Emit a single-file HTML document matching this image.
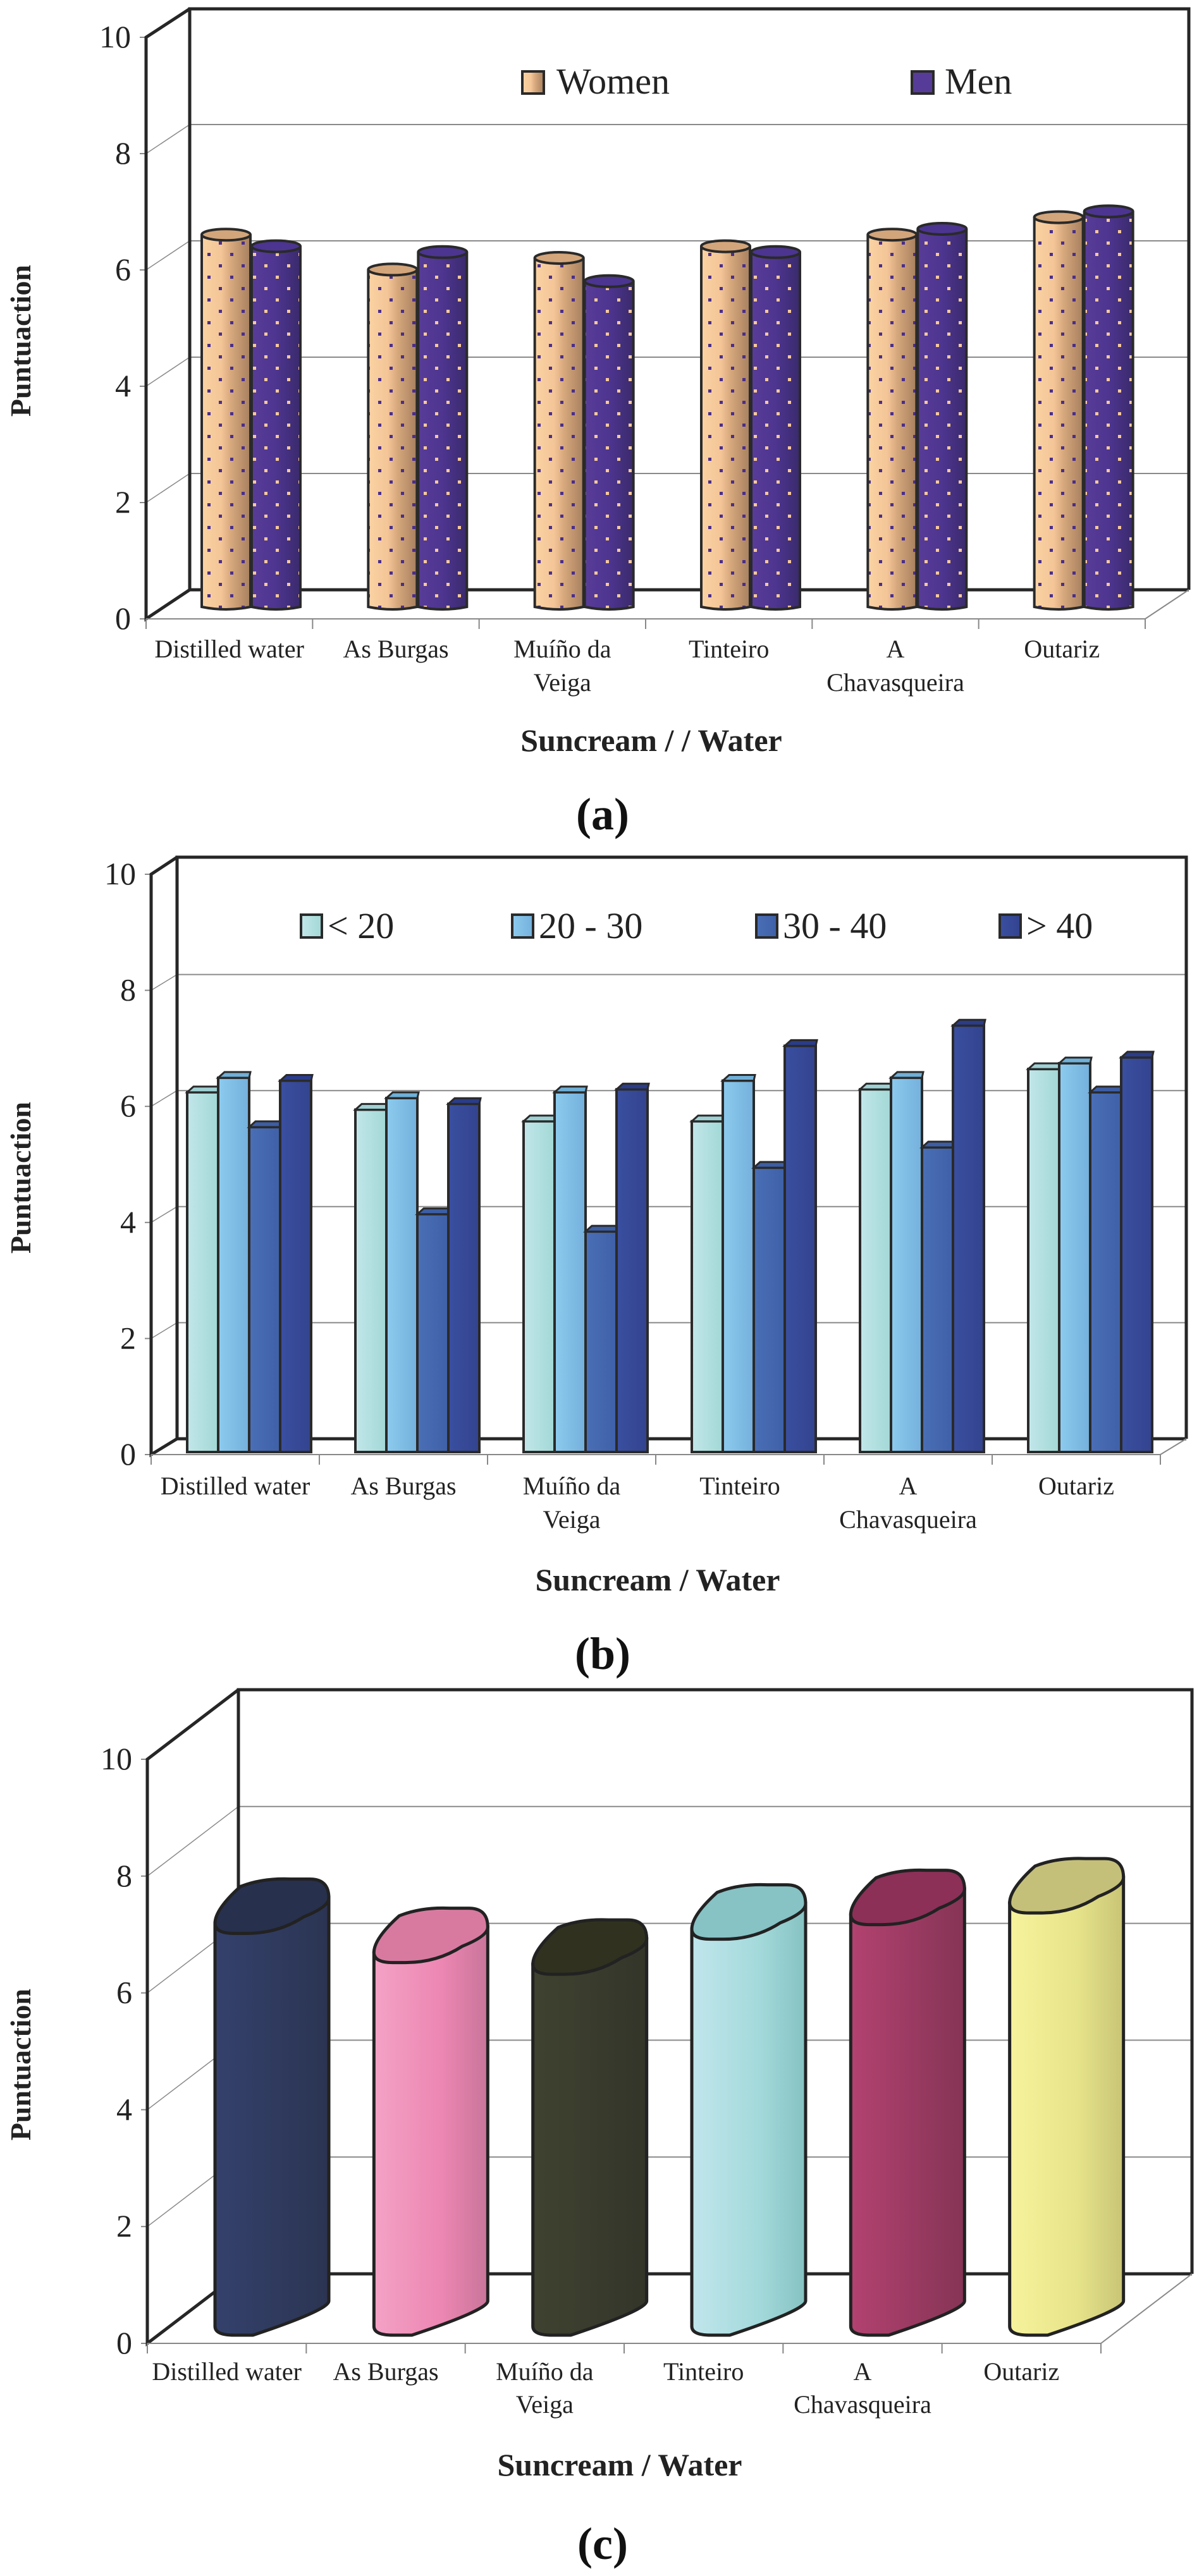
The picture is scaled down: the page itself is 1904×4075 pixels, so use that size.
<!DOCTYPE html>
<html><head><meta charset="utf-8">
<style>
html,body{margin:0;padding:0;background:#fff;}
svg{display:block;font-family:"Liberation Serif",serif;}
svg text{font-family:"Liberation Serif",serif;}
</style></head>
<body>
<svg id="root" width="1904" height="4075" viewBox="0 0 1904 4075" xmlns="http://www.w3.org/2000/svg">
<defs>
  <linearGradient id="gWomen" x1="0" x2="1"><stop offset="0" stop-color="#fbd3a3"/><stop offset="0.4" stop-color="#f3c597"/><stop offset="0.6" stop-color="#d6a87c"/><stop offset="1" stop-color="#a7805f"/></linearGradient>
  <linearGradient id="gMen" x1="0" x2="1"><stop offset="0" stop-color="#583c98"/><stop offset="0.5" stop-color="#4d3590"/><stop offset="1" stop-color="#3a2a6c"/></linearGradient>
  <pattern id="dotW" width="36" height="36" patternUnits="userSpaceOnUse"><rect x="4" y="4" width="5" height="5" fill="#4a2e8c"/><rect x="22" y="22" width="5" height="5" fill="#4a2e8c"/></pattern>
  <pattern id="dotM" width="36" height="36" patternUnits="userSpaceOnUse"><rect x="4" y="4" width="5" height="5" fill="#f7c99a"/><rect x="22" y="22" width="5" height="5" fill="#f7c99a"/></pattern>
  <linearGradient id="gB0" x1="0" x2="1"><stop offset="0" stop-color="#c2e6ea"/><stop offset="1" stop-color="#a2d8d6"/></linearGradient>
  <linearGradient id="gB1" x1="0" x2="1"><stop offset="0" stop-color="#8ccbee"/><stop offset="1" stop-color="#74b0dc"/></linearGradient>
  <linearGradient id="gB2" x1="0" x2="1"><stop offset="0" stop-color="#4a6fb6"/><stop offset="1" stop-color="#3f60a8"/></linearGradient>
  <linearGradient id="gB3" x1="0" x2="1"><stop offset="0" stop-color="#3a4fa0"/><stop offset="1" stop-color="#33438f"/></linearGradient>
  <linearGradient id="gC0" x1="0" x2="1"><stop offset="0" stop-color="#34416c"/><stop offset="1" stop-color="#2b3452"/></linearGradient>
  <linearGradient id="gC1" x1="0" x2="1"><stop offset="0" stop-color="#f4a2c6"/><stop offset="0.6" stop-color="#ec86b2"/><stop offset="1" stop-color="#c9759a"/></linearGradient>
  <linearGradient id="gC2" x1="0" x2="1"><stop offset="0" stop-color="#404230"/><stop offset="1" stop-color="#33352a"/></linearGradient>
  <linearGradient id="gC3" x1="0" x2="1"><stop offset="0" stop-color="#c0e6ec"/><stop offset="0.6" stop-color="#a3d9da"/><stop offset="1" stop-color="#86c2c2"/></linearGradient>
  <linearGradient id="gC4" x1="0" x2="1"><stop offset="0" stop-color="#b34270"/><stop offset="1" stop-color="#853456"/></linearGradient>
  <linearGradient id="gC5" x1="0" x2="1"><stop offset="0" stop-color="#f6f39c"/><stop offset="0.6" stop-color="#e6e38a"/><stop offset="1" stop-color="#c8c476"/></linearGradient>
</defs>
</svg>
<script>
// ---- data ----
const categories = ["Distilled water","As Burgas","Muíño da|Veiga","Tinteiro","A|Chavasqueira","Outariz"];
const yTicks = [0,2,4,6,8,10];
const seriesA_names = ["Women","Men"];
const womenValues = [6.4,5.8,6.0,6.2,6.4,6.7];
const menValues = [6.2,6.1,5.6,6.1,6.5,6.8];
const seriesB_names = ["< 20","20 - 30","30 - 40","> 40"];
const under20Values = [6.2,5.9,5.7,5.7,6.25,6.6];
const age20to30Values = [6.45,6.1,6.2,6.4,6.45,6.7];
const age30to40Values = [5.6,4.1,3.8,4.9,5.25,6.2];
const over40Values = [6.4,6.0,6.25,7.0,7.35,6.8];
const overallValues = [6.9,6.4,6.2,6.8,7.05,7.25];

const NS="http://www.w3.org/2000/svg";
const root=document.getElementById('root');
function mk(tag,attrs,parent){const e=document.createElementNS(NS,tag);for(const k in attrs)e.setAttribute(k,attrs[k]);if(tag==='text')e.setAttribute('font-family','Liberation Serif, serif');(parent||root).appendChild(e);return e;}

function frame(c,g){
  const yv=v=>c.y0-v*c.unit;
  const bx=c.fx+c.dx;
  yTicks.forEach(v=>{
    if(v>0&&v<10){
      const l=mk('line',{x1:bx,y1:yv(v)+c.dy,x2:c.backRight,y2:yv(v)+c.dy,stroke:'#8a8a8a','stroke-width':2},g);
      
      
      const d=mk('line',{x1:c.fx,y1:yv(v),x2:bx,y2:yv(v)+c.dy,stroke:'#8a8a8a','stroke-width':1.5},g);
      
      
    }
    const t=mk('line',{x1:c.fx-10,y1:yv(v),x2:c.fx,y2:yv(v),stroke:'#888','stroke-width':2},g);
    
    
    const tl=mk('text',{x:c.fx-24,y:yv(v)+16,'text-anchor':'end','font-size':50,fill:'#222'},g);
    tl.textContent=v;
    
    
  });
  const S='#262626';
  mk('path',{d:`M${bx},${c.y0+c.dy} L${bx},${c.backTop} L${c.backRight},${c.backTop} L${c.backRight},${c.y0+c.dy}`,fill:'none',stroke:S,'stroke-width':5},g);
  mk('line',{x1:bx,y1:c.y0+c.dy,x2:c.backRight,y2:c.y0+c.dy,stroke:S,'stroke-width':5},g);
  mk('path',{d:`M${bx},${c.backTop} L${c.fx},${yv(10)} L${c.fx},${c.y0} L${bx},${c.y0+c.dy}`,fill:'none',stroke:S,'stroke-width':5},g);
  const fr=c.backRight-c.dx;
  mk('path',{d:`M${c.fx},${c.y0} L${fr},${c.y0} L${c.backRight},${c.y0+c.dy}`,fill:'none',stroke:'#888','stroke-width':2},g);
  const cw=(fr-c.fx)/categories.length;
  for(let i=0;i<=categories.length;i++){
    mk('line',{x1:c.fx+i*cw,y1:c.y0,x2:c.fx+i*cw,y2:c.y0+16,stroke:'#888','stroke-width':2},g);
  }
  categories.forEach((cat,i)=>{
    const parts=cat.split('|');
    parts.forEach((p,j)=>{
      const t=mk('text',{x:c.fx+(i+0.5)*cw,y:c.labY+j*c.labGap,'text-anchor':'middle','font-size':40,fill:'#222'},g);
      t.textContent=p;
      
      
    });
  });
  const xt=mk('text',{x:c.titleX,y:c.titleY,'text-anchor':'middle','font-size':50,'font-weight':'bold',fill:'#222'},g);
  xt.textContent=c.title;
  
  
  const yt=mk('text',{x:0,y:0,'text-anchor':'middle','font-size':46,'font-weight':'bold',fill:'#222',transform:`translate(48,${c.yTitleY}) rotate(-90)`},g);
  yt.textContent='Puntuaction';
  
  
  const cap=mk('text',{x:c.capX,y:c.capY,'text-anchor':'middle','font-size':72,'font-weight':'bold',fill:'#111'},g);
  cap.textContent=c.cap;
  
  
  return {yv,cw};
}

// ---- Chart A ----
(function(){
  const g=mk('g',{});
  
  
  const c={fx:231,y0:979,unit:92,dx:69,dy:-46,backTop:14,backRight:1880,labY:1040,labGap:53,title:'Suncream / / Water',titleX:1030,titleY:1188,yTitleY:539,cap:'(a)',capX:953,capY:1312};
  const {cw}=frame(c,g);
  const base=960, w=77;
  const ser=[[womenValues,'url(#gWomen)','url(#dotW)','#d3a57a',88],[menValues,'url(#gMen)','url(#dotM)','#4b3590',167]];
  ser.forEach((s,si)=>{
    s[0].forEach((v,i)=>{
      const x=c.fx+i*cw+s[4];
      const top=base-v*c.unit;
      const b=mk('g',{},g);
      
      
      mk('path',{d:`M${x},${top} L${x},${base} Q${x+w/2},${base+8} ${x+w},${base} L${x+w},${top} Z`,fill:s[1]},b);
      mk('path',{d:`M${x},${top} L${x},${base} Q${x+w/2},${base+8} ${x+w},${base} L${x+w},${top} Z`,fill:s[2]},b);
      mk('path',{d:`M${x},${top} L${x},${base} Q${x+w/2},${base+8} ${x+w},${base} L${x+w},${top}`,fill:'none',stroke:'#2a2a2a','stroke-width':4},b);
      mk('ellipse',{cx:x+w/2,cy:top,rx:w/2,ry:9,fill:s[3],stroke:'#2a2a2a','stroke-width':4},b);
    });
  });
  const leg=[[826,'url(#gWomen)',880,'Women'],[1442,'#563c98',1494,'Men']];
  leg.forEach((l,i)=>{
    const e=mk('g',{},g);
    
    
    mk('rect',{x:l[0],y:113,width:34,height:35,fill:l[1],stroke:'#2a2a2a','stroke-width':4},e);
    const t=mk('text',{x:l[2],y:148,'font-size':58,fill:'#222'},e);
    t.textContent=seriesA_names[i];
  });
})();

// ---- Chart B ----
(function(){
  const g=mk('g',{});
  
  
  const c={fx:239,y0:2301,unit:91.8,dx:41,dy:-25,backTop:1356,backRight:1876,labY:2364,labGap:53,title:'Suncream / Water',titleX:1040,titleY:2516,yTitleY:1863,cap:'(b)',capX:953,capY:2640};
  const {cw}=frame(c,g);
  const base=2297,w=49;
  const series=[under20Values,age20to30Values,age30to40Values,over40Values];
  const tops=['#9fd1d4','#6fb0d8','#3c5ea6','#2a3c8a'];
  series.forEach((vals,si)=>{
    vals.forEach((v,i)=>{
      const x=c.fx+i*cw+57+si*w;
      const top=base-v*c.unit;
      const b=mk('g',{},g);
      
      
      mk('rect',{x:x,y:top,width:w,height:base-top,fill:`url(#gB${si})`,stroke:'#2a2a2a','stroke-width':4},b);
      mk('path',{d:`M${x},${top} L${x+10},${top-9} L${x+w+2},${top-9} L${x+w},${top} Z`,fill:tops[si],stroke:'#2a2a2a','stroke-width':3},b);
    });
  });
  const lx=[476,810,1196,1581];
  seriesB_names.forEach((n,i)=>{
    const e=mk('g',{},g);
    
    
    mk('rect',{x:lx[i],y:1447,width:33,height:36,fill:`url(#gB${i})`,stroke:'#2a2a2a','stroke-width':4},e);
    const t=mk('text',{x:lx[i]+42,y:1484,'font-size':58,fill:'#222'},e);
    t.textContent=n;
  });
})();

// ---- Chart C ----
(function(){
  const g=mk('g',{});
  
  
  const c={fx:233,y0:3707,unit:92.4,dx:144,dy:-110,backTop:2673,backRight:1885,labY:3765,labGap:52,title:'Suncream / Water',titleX:980,titleY:3916,yTitleY:3266,cap:'(c)',capX:953,capY:4048};
  const {cw}=frame(c,g);
  const base=3660,w=180;
  const tops=['#27304d','#d87aa0','#30321f','#87c2c4','#8c3058','#c4c07a'];
  overallValues.forEach((v,i)=>{
    const x=c.fx+i*cw+107;
    const top=base-v*c.unit;
    const b=mk('g',{},g);
    
    
    const tl=top+20, tr=top-20, bl=base+20, br=base-20;
    mk('path',{d:`M${x},${tl} L${x},${bl} Q${x},${bl+14} ${x+30},${bl+14} L${x+60},${bl+14} Q${x+w},${br+14} ${x+w},${br} L${x+w},${tr} Z`,fill:`url(#gC${i})`,stroke:'#222','stroke-width':5},b);
    mk('path',{d:`M${x},${tl} Q${x},${tl-22} ${x+40},${tr-18} Q${x+75},${tr-32} ${x+120},${tr-30} L${x+150},${tr-30} Q${x+w},${tr-30} ${x+w},${tr} Q${x+w},${tr+14} ${x+140},${tl-10} Q${x+100},${tl+16} ${x+50},${tl+16} L${x+30},${tl+16} Q${x},${tl+16} ${x},${tl} Z`,fill:tops[i],stroke:'#222','stroke-width':5},b);
  });
})();
</script>
</body></html>
